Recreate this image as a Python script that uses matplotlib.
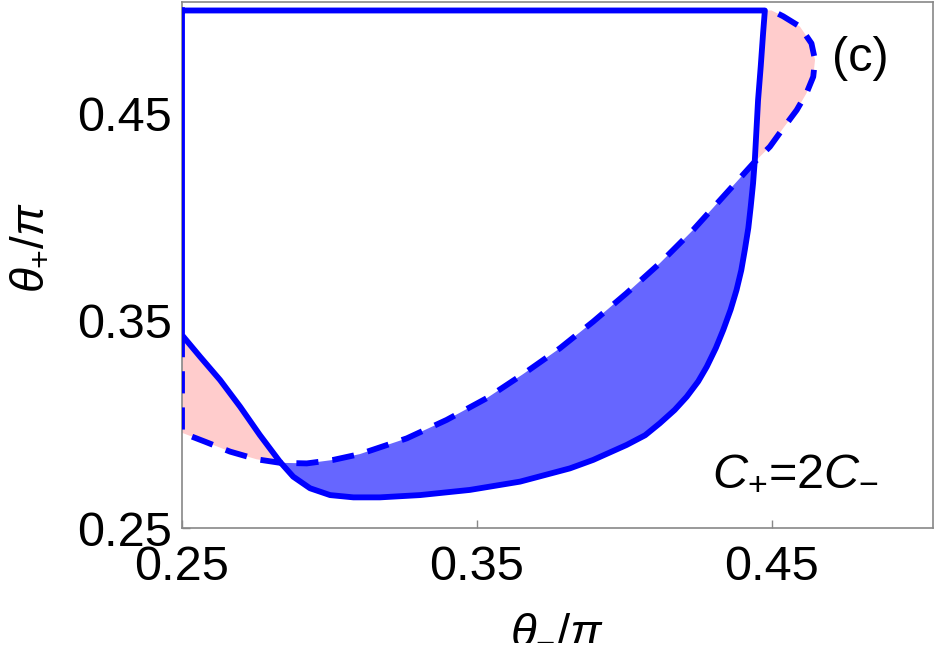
import matplotlib
matplotlib.use('Agg')
import matplotlib.pyplot as plt
from matplotlib.patches import Polygon

plt.rcParams['font.family'] = ['Liberation Sans', 'DejaVu Sans']
plt.rcParams['mathtext.fontset'] = 'custom'
plt.rcParams['mathtext.rm'] = 'Liberation Sans'
plt.rcParams['mathtext.it'] = 'Liberation Sans:italic'

# solid boundary, from the left edge down and up to the top
solid_x = [0.25, 0.2561, 0.2629, 0.2697, 0.2764, 0.2832, 0.2877, 0.2934, 0.3002, 0.3081,
           0.3171, 0.3307, 0.3476, 0.3646, 0.3815, 0.3894, 0.4007, 0.4070, 0.4120, 0.4170,
           0.4211, 0.4250, 0.4279, 0.4310, 0.4335, 0.4360, 0.4380, 0.4396, 0.4408, 0.4420,
           0.4428, 0.4436, 0.4442, 0.4453, 0.4462, 0.4470, 0.4476]
solid_y = [0.3432, 0.3328, 0.3215, 0.3086, 0.2949, 0.2820, 0.2748, 0.2692, 0.2659, 0.2648,
           0.2648, 0.2659, 0.2684, 0.2724, 0.2788, 0.2829, 0.2901, 0.2948, 0.3006, 0.3070,
           0.3134, 0.3208, 0.3279, 0.3370, 0.3457, 0.3555, 0.3650, 0.3745, 0.3843, 0.3950,
           0.4052, 0.4165, 0.4278, 0.4568, 0.4730, 0.4890, 0.5]

# dashed boundary
dashed_x = [0.25, 0.25, 0.2578, 0.2663, 0.2753, 0.2832, 0.2923, 0.3013, 0.3103, 0.3262,
            0.3397, 0.3533, 0.3657, 0.3781, 0.3894, 0.4007, 0.4120, 0.4233, 0.4335, 0.4437,
            0.4493, 0.4538, 0.4584, 0.4617, 0.4640, 0.4646, 0.4634, 0.4595, 0.4538, 0.4499]
dashed_y = [0.3432, 0.2960, 0.2917, 0.2869, 0.2832, 0.2815, 0.2812, 0.2829, 0.2857, 0.2933,
            0.3022, 0.3127, 0.3244, 0.3368, 0.3497, 0.3634, 0.3779, 0.3940, 0.4101, 0.4262,
            0.4342, 0.4431, 0.4519, 0.4600, 0.4680, 0.4761, 0.4841, 0.4922, 0.4972, 0.5]

ticks = [0.25, 0.35, 0.45]
tick_labels = ['0.25', '0.35', '0.45']

blue = '#0000ff'
blue_fill = '#6666ff'
pink_fill = '#ffcccc'

fig = plt.figure(figsize=(9.38, 6.69), dpi=100)
ax = fig.add_axes([182 / 938, 141 / 669, 751 / 938, 526 / 669])

s_pts = [(0.25, 0.5)] + list(zip(solid_x, solid_y))
d_pts = [(0.25, 0.5)] + list(zip(dashed_x, dashed_y))

# D \ S pink, S \ D blue, overlap white
ax.add_patch(Polygon(d_pts, closed=True, facecolor=pink_fill, edgecolor='none', zorder=1))
s_patch = Polygon(s_pts, closed=True, facecolor=blue_fill, edgecolor='none', zorder=2)
ax.add_patch(s_patch)
white = Polygon(d_pts, closed=True, facecolor='white', edgecolor='none', zorder=3)
ax.add_patch(white)
white.set_clip_path(s_patch)

ax.plot(dashed_x, dashed_y, color=blue, lw=4.2, dashes=(3.8, 2.4),
        dash_joinstyle='round', zorder=4)
ax.plot([0.25] + solid_x + [0.25], [0.5] + solid_y + [0.5], color=blue, lw=4.2,
        solid_joinstyle='round', zorder=5)

ax.set_xlim(0.25, 0.5046)
ax.set_ylim(0.25, 0.5041)
ax.set_xticks(ticks)
ax.set_xticklabels(tick_labels)
ax.set_yticks(ticks)
ax.set_yticklabels(tick_labels)
ax.tick_params(direction='in', length=5.5, width=1, color='#888888', labelsize=35)
ax.tick_params(axis='x', pad=12)
ax.tick_params(axis='y', pad=7)
for sp in ax.spines.values():
    sp.set_color('#888888')
    sp.set_linewidth(1.2)

fig.text(557 / 938, 1 - 628 / 669, r'$\theta_{-}/\pi$', fontsize=34, ha='center', va='center')
fig.text(30 / 938, 1 - 247 / 669, r'$\theta_{+}/\pi$', fontsize=33, ha='center', va='center',
         rotation=90)

ax.text(0.903, 0.892, '(c)', transform=ax.transAxes, fontsize=35, ha='center', va='center')
ax.text(0.706, 0.082, r'$C_{+}$=2$C_{-}$', transform=ax.transAxes, fontsize=35,
        ha='left', va='baseline')

fig.savefig('out.png', dpi=100)
